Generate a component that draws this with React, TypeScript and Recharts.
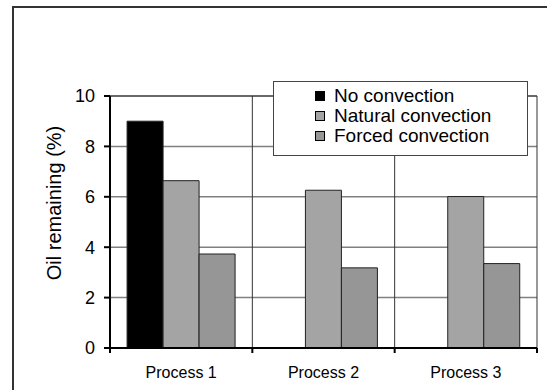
import { Bar, BarChart, CartesianGrid, ReferenceLine, XAxis, YAxis } from "recharts";

const PROCESSES = ["Process 1", "Process 2", "Process 3"];
const NO_CONVECTION = [9.0, null, null];
const NATURAL_CONVECTION = [6.64, 6.26, 6.01];
const FORCED_CONVECTION = [3.73, 3.18, 3.35];
const Y_TICKS = [0, 2, 4, 6, 8, 10];

const SERIES = [
  { key: "none", name: "No convection", color: "#000000" },
  { key: "natural", name: "Natural convection", color: "#a4a4a4" },
  { key: "forced", name: "Forced convection", color: "#969696" },
];

const data = PROCESSES.map((name, i) => ({
  name,
  none: NO_CONVECTION[i],
  natural: NATURAL_CONVECTION[i],
  forced: FORCED_CONVECTION[i],
}));

const FONT = "'Liberation Sans', Arial, sans-serif";

function LegendBox() {
  return (
    <div
      style={{
        position: "absolute",
        left: 273,
        top: 81,
        width: 255,
        height: 75,
        boxSizing: "border-box",
        border: "1px solid #444",
        background: "#fff",
        paddingTop: 4,
        paddingLeft: 41,
        fontFamily: FONT,
        fontSize: 19,
        color: "#000",
      }}
    >
      {SERIES.map((s) => (
        <div key={s.key} style={{ display: "flex", alignItems: "center", height: 20 }}>
          <span
            style={{
              display: "inline-block",
              width: 8,
              height: 8,
              background: s.color,
              border: "1px solid #000",
              marginRight: 9,
            }}
          />
          <span style={{ lineHeight: "20px" }}>{s.name}</span>
        </div>
      ))}
    </div>
  );
}

function YLabel(props: any) {
  const vb = props.viewBox;
  const x = vb.x + 54;
  const y = vb.y + vb.height / 2 - 19;
  return (
    <text
      x={x}
      y={y}
      transform={`rotate(-90 ${x} ${y})`}
      textAnchor="middle"
      dominantBaseline="central"
      fontFamily={FONT}
      fontSize={20}
      fill="#000"
    >
      Oil remaining (%)
    </text>
  );
}

// category label at the band centre, tick marks on the band edges
function ProcessTick(props: any) {
  const { x, y, payload, width, index, visibleTicksCount } = props;
  const band = width / visibleTicksCount;
  const axisY = y - 19;
  const left = x - band / 2;
  const right = x + band / 2;
  return (
    <g>
      <line x1={left} x2={left} y1={axisY} y2={axisY + 5} stroke="#000" strokeWidth={2} />
      {index === visibleTicksCount - 1 && (
        <line x1={right} x2={right} y1={axisY} y2={axisY + 5} stroke="#000" strokeWidth={2} />
      )}
      <text x={x} y={y} dy="0.71em" textAnchor="middle" fontFamily={FONT} fontSize={16} fill="#000">
        {payload.value}
      </text>
    </g>
  );
}

const bandEdges = ({ offset }: any) =>
  PROCESSES.map((_, i) => offset.left + (offset.width * (i + 1)) / PROCESSES.length);

export default function App() {
  return (
    <div
      style={{
        position: "absolute",
        left: 0,
        top: 0,
        width: 547,
        height: 390,
        overflow: "hidden",
        background: "#fff",
      }}
    >
      {/* outer frame: only top and left edges fall inside the view */}
      <svg width={547} height={390} style={{ position: "absolute", left: 0, top: 0 }}>
        <path d="M13 390 V7 H547" fill="none" stroke="#333" strokeWidth={2} />
      </svg>
      <div style={{ position: "absolute", left: 0, top: 0 }}>
        <BarChart
          width={547}
          height={390}
          data={data}
          margin={{ top: 96, right: 10, bottom: 0, left: 0 }}
          barCategoryGap="12%"
          barGap={0}
        >
          <CartesianGrid vertical={false} horizontal stroke="#808080" strokeWidth={1.5} />
          <CartesianGrid
            horizontal={false}
            vertical
            verticalCoordinatesGenerator={bandEdges}
            stroke="#333"
            strokeWidth={1}
          />
          <XAxis
            dataKey="name"
            height={42}
            axisLine={{ stroke: "#000", strokeWidth: 2 }}
            tickLine={false}
            tickSize={0}
            tickMargin={19}
            tick={<ProcessTick />}
          />
          <YAxis
            width={110}
            domain={[0, 10]}
            ticks={Y_TICKS}
            axisLine={{ stroke: "#000", strokeWidth: 2 }}
            tickLine={{ stroke: "#000", strokeWidth: 2 }}
            tickSize={6}
            tickMargin={9}
            tick={{ fontFamily: FONT, fontSize: 18, fill: "#000" }}
            label={<YLabel />}
          />
          <ReferenceLine y={10} stroke="#333" strokeWidth={1} />
          {SERIES.map((s) => (
            <Bar
              key={s.key}
              dataKey={s.key}
              name={s.name}
              fill={s.color}
              stroke="#222"
              strokeWidth={1}
              isAnimationActive={false}
            />
          ))}
        </BarChart>
      </div>
      <LegendBox />
    </div>
  );
}
